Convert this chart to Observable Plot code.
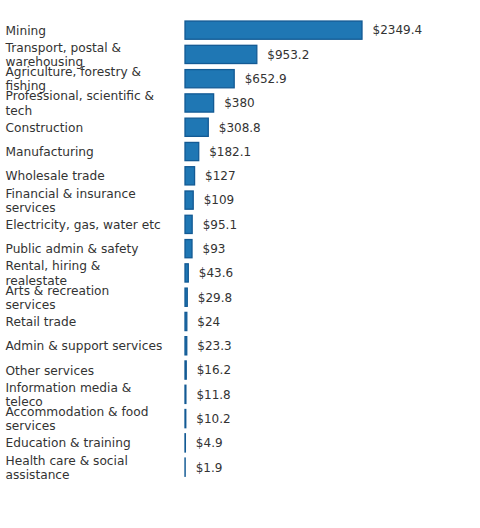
<!DOCTYPE html>
<html><head><meta charset="utf-8">
<script src="https://cdn.jsdelivr.net/npm/d3@7"></script>
<script src="https://cdn.jsdelivr.net/npm/@observablehq/plot@0.6"></script>
<style>body{margin:0;background:#fff;} svg{display:block;}</style>
</head><body><div id="chart"></div>
<script>
const categories = [
  "Mining",
  "Transport, postal &\nwarehousing",
  "Agriculture, forestry &\nfishing",
  "Professional, scientific &\ntech",
  "Construction",
  "Manufacturing",
  "Wholesale trade",
  "Financial & insurance\nservices",
  "Electricity, gas, water etc",
  "Public admin & safety",
  "Rental, hiring &\nrealestate",
  "Arts & recreation\nservices",
  "Retail trade",
  "Admin & support services",
  "Other services",
  "Information media &\nteleco",
  "Accommodation & food\nservices",
  "Education & training",
  "Health care & social\nassistance"
];
const values = [2349.4, 953.2, 652.9, 380, 308.8, 182.1, 127, 109, 95.1, 93, 43.6, 29.8, 24, 23.3, 16.2, 11.8, 10.2, 4.9, 1.9];
const data = categories.map((c, i) => ({category: c, value: values[i]}));

const chart = Plot.plot({
  width: 480,
  height: 500,
  marginLeft: 185,
  marginRight: 118,
  marginTop: 18,
  marginBottom: 20.7,
  style: {fontFamily: "'DejaVu Sans'", fontSize: "12px", color: "#333", background: "#fff"},
  x: {domain: [0, d3.max(values)], axis: null},
  y: {domain: categories, axis: null, paddingInner: 0.25, paddingOuter: 0.125, round: false},
  marks: [
    Plot.barX(data, {x: "value", y: "category", fill: "#1f77b4", stroke: "#135a94", strokeWidth: 1.3}),
    Plot.text(data, {x: 0, y: "category", text: "category", textAnchor: "start", dx: -180, dy: -0.5, fill: "#333", lineHeight: 1.17, fontSize: 12.2}),
    Plot.text(data, {x: "value", y: "category", text: d => "$" + d.value, textAnchor: "start", dx: 10, fill: "#333", fontSize: 12})
  ]
});
document.getElementById("chart").appendChild(chart);
</script>
</body></html>
